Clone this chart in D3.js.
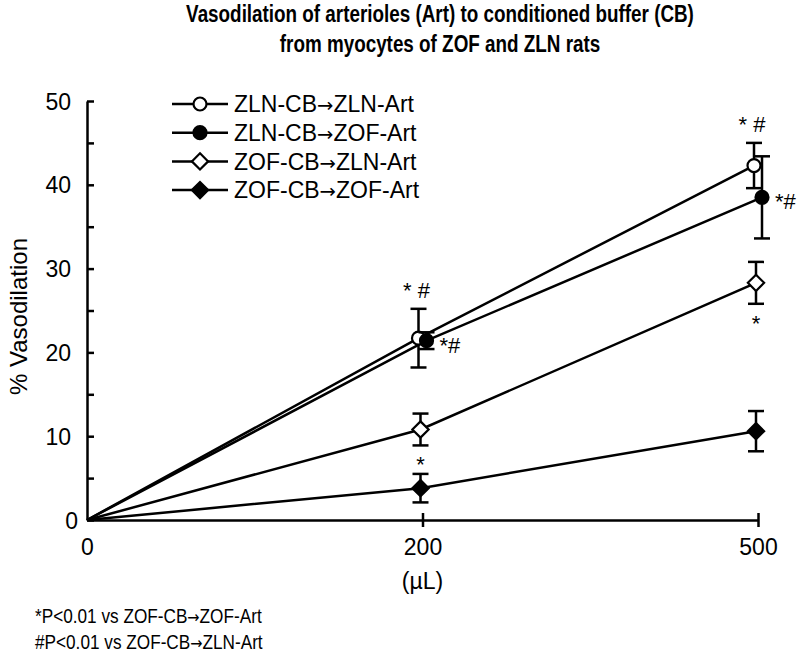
<!DOCTYPE html>
<html>
<head>
<meta charset="utf-8">
<script src="https://cdn.jsdelivr.net/npm/d3@7"></script>
<style>
  body { margin: 0; background: #fff; }
  text { font-family: "Liberation Sans", Arial, sans-serif; fill: #000; }
  .arrow { font-family: "DejaVu Sans", sans-serif; }
</style>
</head>
<body>
<div id="chart"></div>
<script>
var width = 800, height = 660;

// doses (categorical x axis)
var doses = ["0", "200", "500"];

var seriesNames = ["ZLN-CB\u2192ZLN-Art", "ZLN-CB\u2192ZOF-Art", "ZOF-CB\u2192ZLN-Art", "ZOF-CB\u2192ZOF-Art"];
var zlnZln = [0, 21.7, 42.3];
var zlnZof = [0, 21.4, 38.5];
var zofZln = [0, 10.8, 28.3];
var zofZof = [0, 3.8, 10.6];

// error bars (+/-)
var zlnZlnErr = [0, 3.5, 2.7];
var zlnZofErr = [0, 1.0, 4.9];
var zofZlnErr = [0, 1.9, 2.5];
var zofZofErr = [0, 1.7, 2.4];

// significance marks: series index, dose, text, where
var marks = [
  [0, "200", "* #", "above"],
  [1, "200", "*#", "right"],
  [2, "200", "*", "below"],
  [0, "500", "* #", "above"],
  [1, "500", "*#", "right"],
  [2, "500", "*", "below"]
];

var yTicks = [0, 5, 10, 15, 20, 25, 30, 35, 40, 45, 50];
var footnotes = ["*P<0.01 vs ZOF-CB\u2192ZOF-Art", "#P<0.01 vs ZOF-CB\u2192ZLN-Art"];

var values = [zlnZln, zlnZof, zofZln, zofZof];
var errors = [zlnZlnErr, zlnZofErr, zofZlnErr, zofZofErr];
var filled = [false, true, false, true];
var shapes = ["circle", "circle", "diamond", "diamond"];
var nudge = [-4, 4, -2, -2];   // small horizontal offsets so overlapping points stay visible

var svg = d3.select("#chart").append("svg")
    .attr("width", width)
    .attr("height", height);

var x = d3.scalePoint()
    .domain(doses)
    .range([87, 758]);

var y = d3.scaleLinear()
    .domain([0, 50])
    .range([520, 101]);

// put the arrow in its own tspan so it gets a wider glyph
function arrowText(sel, str) {
    var parts = str.split("\u2192");
    sel.append("tspan").text(parts[0]);
    sel.append("tspan").attr("class", "arrow").style("font-size", "0.85em").text("\u2192");
    sel.append("tspan").text(parts[1]);
}

// title (condensed like the original)
["Vasodilation of arterioles (Art) to conditioned buffer (CB)", "from myocytes of ZOF and ZLN rats"].forEach(function(t, i) {
    svg.append("text")
        .attr("transform", "translate(440," + (22 + i * 30) + ") scale(0.82,1)")
        .attr("text-anchor", "middle")
        .style("font-weight", "bold").style("font-size", "23px")
        .text(t);
});

// y axis
var yAxis = svg.append("g")
    .attr("transform", "translate(" + x("0") + ",0)")
    .call(d3.axisLeft(y)
        .tickValues(yTicks)
        .tickSize(-7)
        .tickSizeOuter(0)
        .tickPadding(16)
        .tickFormat(function(d) { return d % 10 === 0 ? d : ""; }));
yAxis.select(".domain").attr("stroke-width", 2.5);
yAxis.selectAll(".tick line").attr("stroke-width", 2.5);
yAxis.selectAll(".tick text").style("font-size", "23px").attr("dy", "0.35em");
yAxis.selectAll(".tick text").filter(function(d) { return d === 0; }).attr("x", -9);

// x axis
var xAxis = svg.append("g")
    .attr("transform", "translate(0," + y(0) + ")")
    .call(d3.axisBottom(x)
        .tickSize(7)
        .tickSizeOuter(0)
        .tickPadding(12));
xAxis.select(".domain").attr("stroke-width", 2.5);
xAxis.selectAll(".tick line").attr("stroke-width", 2.5).attr("y1", -7);
xAxis.selectAll(".tick line").filter(function(d) { return d === "0"; }).remove();
xAxis.selectAll(".tick text").style("font-size", "23px");

svg.append("text")
    .attr("transform", "translate(19," + (y(25) + 6) + ") rotate(-90)")
    .attr("text-anchor", "middle")
    .attr("dy", "0.35em")
    .style("font-size", "24px")
    .text("% Vasodilation");

svg.append("text")
    .attr("x", x("200")).attr("y", 589)
    .attr("text-anchor", "middle")
    .style("font-size", "23px")
    .text("(\u00b5L)");

// lines
var line = d3.line()
    .x(function(d, i) { return x(doses[i]) + (i === 0 ? 0 : d.dx); })
    .y(function(d) { return y(d.v); });

values.forEach(function(vals, s) {
    var pts = vals.map(function(v) { return {v: v, dx: nudge[s]}; });
    svg.append("path")
        .datum(pts)
        .attr("fill", "none")
        .attr("stroke", "#000")
        .attr("stroke-width", 2.5)
        .attr("d", line);
});

// error bars + markers
function drawMarker(g, shape, isFilled, cx, cy, r) {
    if (shape === "circle") {
        g.append("circle").attr("cx", cx).attr("cy", cy).attr("r", r)
            .attr("fill", isFilled ? "#000" : "#fff")
            .attr("stroke", "#000").attr("stroke-width", 2.2);
    } else {
        var d = r * 1.25;
        g.append("path")
            .attr("d", "M" + cx + "," + (cy - d) + "L" + (cx + d) + "," + cy + "L" + cx + "," + (cy + d) + "L" + (cx - d) + "," + cy + "Z")
            .attr("fill", isFilled ? "#000" : "#fff")
            .attr("stroke", "#000").attr("stroke-width", 2.2);
    }
}

values.forEach(function(vals, s) {
    var g = svg.append("g");
    vals.forEach(function(v, i) {
        if (i === 0) return;
        var cx = x(doses[i]) + nudge[s];
        var e = errors[s][i];
        g.append("line")
            .attr("x1", cx).attr("x2", cx)
            .attr("y1", y(v + e)).attr("y2", y(v - e))
            .attr("stroke", "#000").attr("stroke-width", 2.5);
        [v + e, v - e].forEach(function(c) {
            g.append("line")
                .attr("x1", cx - 8).attr("x2", cx + 8)
                .attr("y1", y(c)).attr("y2", y(c))
                .attr("stroke", "#000").attr("stroke-width", 2.5);
        });
        drawMarker(g, shapes[s], filled[s], cx, y(v), 6.5);
    });
});

// significance marks
marks.forEach(function(m) {
    var s = m[0], i = doses.indexOf(m[1]);
    var cx = x(m[1]) + nudge[s];
    var v = values[s][i], e = errors[s][i];
    var t = svg.append("text").style("font-size", "22px").text(m[2]);
    if (m[3] === "above") {
        t.attr("x", cx - 2).attr("y", y(v + e) - 11).attr("text-anchor", "middle");
    } else if (m[3] === "right") {
        t.attr("x", cx + 13).attr("y", y(v) + 12);
    } else {
        t.attr("x", cx).attr("y", y(v - e) + 27).attr("text-anchor", "middle");
    }
});

// legend
var legend = svg.append("g");
seriesNames.forEach(function(name, s) {
    var ly = 104 + s * 28.7;
    legend.append("line")
        .attr("x1", 172).attr("x2", 228)
        .attr("y1", ly).attr("y2", ly)
        .attr("stroke", "#000").attr("stroke-width", 2.5);
    drawMarker(legend, shapes[s], filled[s], 200, ly, 6.5);
    legend.append("text")
        .attr("x", 234).attr("y", ly)
        .attr("dy", "0.36em")
        .style("font-size", "23px")
        .call(arrowText, name);
});

// footnotes
footnotes.forEach(function(f, i) {
    svg.append("text")
        .attr("transform", "translate(35," + (623 + i * 26) + ") scale(0.86,1)")
        .style("font-size", "20px")
        .call(arrowText, f);
});
</script>
</body>
</html>
